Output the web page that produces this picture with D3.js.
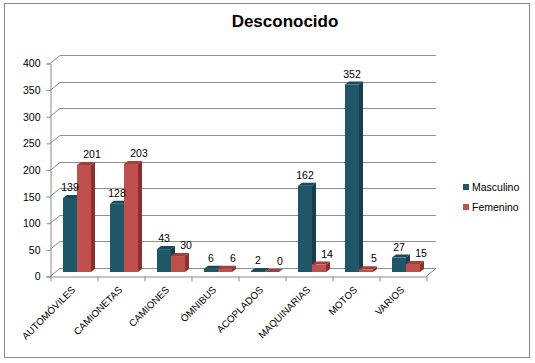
<!DOCTYPE html>
<html>
<head>
<meta charset="utf-8">
<script src="https://cdn.jsdelivr.net/npm/d3@7"></script>
<style>
body { margin: 0; background: #fff; }
text { font-family: "Liberation Sans", Arial, sans-serif; }
</style>
</head>
<body>
<svg width="535" height="363"></svg>
<script>
// chart data
var categories = ["AUTOMÓVILES", "CAMIONETAS", "CAMIONES", "ÓMNIBUS", "ACOPLADOS", "MAQUINARIAS", "MOTOS", "VARIOS"];
var seriesNames = ["Masculino", "Femenino"];
var masculino = [139, 128, 43, 6, 2, 162, 352, 27];
var femenino = [201, 203, 30, 6, 0, 14, 5, 15];
var yTicks = [0, 50, 100, 150, 200, 250, 300, 350, 400];

var colors = [
	{front: "#1F5768", side: "#163F4B", top: "#19495A"},
	{front: "#C0504D", side: "#8C302E", top: "#A33E3B"}
];

var svg = d3.select("svg");

// outer border
svg.append("rect")
	.attr("x", 4.5).attr("y", 3.5)
	.attr("width", 525).attr("height", 354)
	.attr("fill", "#fff")
	.attr("stroke", "#8a8a8a");

// title
svg.append("text")
	.attr("x", 285).attr("y", 27)
	.attr("text-anchor", "middle")
	.style("font-size", "17px")
	.style("font-weight", "bold")
	.text("Desconocido");

var left = 50, right = 426, bottom = 276;
var depthX = 10, depthY = -8; // wall depth

var y = d3.scaleLinear().domain([0, 400]).range([bottom, 63]);
var x = d3.scaleBand().domain(categories).range([left, right]);
var xb = d3.scaleLinear().domain([0, categories.length]).range([left, right]);

// back wall gridlines + diagonal on side wall
var grid = svg.append("g").attr("stroke", "#8f8f8f").attr("stroke-width", 1);
yTicks.forEach(function(t){
	var yy = Math.round(y(t)) + 0.5;
	grid.append("line")
		.attr("x1", left).attr("y1", yy)
		.attr("x2", left + depthX).attr("y2", yy + depthY);
	grid.append("line")
		.attr("x1", left + depthX).attr("y1", yy + depthY)
		.attr("x2", right + depthX).attr("y2", yy + depthY);
});
// floor right edge
grid.append("line")
	.attr("x1", right).attr("y1", bottom + 0.5)
	.attr("x2", right + depthX).attr("y2", bottom + 0.5 + depthY);

// y axis
svg.append("g")
	.attr("transform", "translate(" + (left + 0.5) + ",0.5)")
	.call(d3.axisLeft(y).tickValues(yTicks).tickSize(4).tickPadding(6))
	.call(function(g){
		g.selectAll("path, line").attr("stroke", "#8a8a8a");
		g.selectAll("text").style("font-size", "10.5px").attr("fill", "#000").style("font-family", "'Liberation Sans', Arial, sans-serif");
	});

// x axis (ticks at category boundaries)
svg.append("g")
	.attr("transform", "translate(0.5," + (bottom + 0.5) + ")")
	.call(d3.axisBottom(xb).tickValues(d3.range(categories.length + 1)).tickFormat("").tickSize(5).tickSizeOuter(0))
	.call(function(g){
		g.selectAll("path, line").attr("stroke", "#8a8a8a");
	});

// category labels rotated
svg.append("g").selectAll("text")
	.data(categories)
	.enter().append("text")
	.attr("transform", function(d){
		return "translate(" + (x(d) + x.bandwidth() / 2) + "," + (bottom + 12) + ") rotate(-45)";
	})
	.attr("text-anchor", "end")
	.attr("dy", "0.35em")
	.style("font-size", "9.8px")
	.text(function(d){ return d; });

// 3D bars
var barW = 14, bdx = 4, bdy = -3, shiftY = -4;
var series = [masculino, femenino];
var bars = svg.append("g");
var labels = svg.append("g");
series.forEach(function(vals, s){
	vals.forEach(function(v, i){
		var x0 = x(categories[i]) + 13 + s * barW;
		var yb = y(0) + shiftY;
		var yt = y(v) + shiftY;
		var c = colors[s];
		var g = bars.append("g");
		// side face
		g.append("path")
			.attr("d", "M" + (x0 + barW) + "," + yb + "L" + (x0 + barW + bdx) + "," + (yb + bdy) +
				"L" + (x0 + barW + bdx) + "," + (yt + bdy) + "L" + (x0 + barW) + "," + yt + "Z")
			.attr("fill", c.side);
		// top face
		g.append("path")
			.attr("d", "M" + x0 + "," + yt + "L" + (x0 + bdx) + "," + (yt + bdy) +
				"L" + (x0 + barW + bdx) + "," + (yt + bdy) + "L" + (x0 + barW) + "," + yt + "Z")
			.attr("fill", c.top);
		// front face
		if (yb - yt > 0) {
			g.append("rect")
				.attr("x", x0).attr("y", yt)
				.attr("width", barW).attr("height", yb - yt)
				.attr("fill", c.front);
		}
		// value label
		labels.append("text")
			.attr("x", x0 + barW / 2 + (s === 1 ? 8 : 0))
			.attr("y", yt - 7)
			.attr("text-anchor", "middle")
			.style("font-size", "10.5px")
			.text(v);
	});
});

// legend
var legend = svg.append("g").attr("transform", "translate(463,184)");
seriesNames.forEach(function(n, i){
	legend.append("rect")
		.attr("x", 0).attr("y", i * 20)
		.attr("width", 6).attr("height", 6)
		.attr("fill", colors[i].front);
	legend.append("text")
		.attr("x", 9).attr("y", i * 20 + 3)
		.attr("dy", "0.35em")
		.style("font-size", "10.5px")
		.text(n);
});
</script>
</body>
</html>
